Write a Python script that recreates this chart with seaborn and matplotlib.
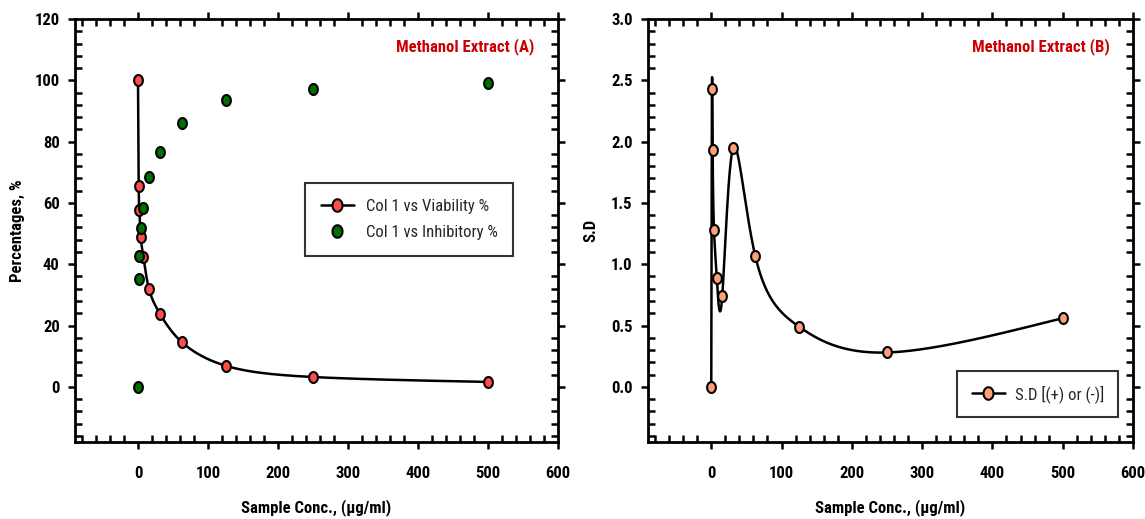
import numpy as np
import pandas as pd
import matplotlib
matplotlib.use("Agg")
import matplotlib.pyplot as plt
from matplotlib.lines import Line2D
from matplotlib.ticker import MultipleLocator, FormatStrFormatter
from matplotlib import font_manager as fm
from matplotlib.path import Path
import seaborn as sns

# ---- data ----
conc = [0, 0.98, 1.95, 3.9, 7.8, 15.6, 31.25, 62.5, 125, 250, 500]
viability = [100, 65.5, 57.7, 48.8, 42.4, 32.0, 23.9, 14.6, 6.9, 3.2, 1.6]
inhibitory = [0, 35.2, 42.8, 51.7, 58.5, 68.6, 76.7, 86.0, 93.6, 97.2, 99.0]
sd = [0.0, 2.43, 1.93, 1.28, 0.89, 0.74, 1.95, 1.07, 0.49, 0.28, 0.56]

xticks = [0, 100, 200, 300, 400, 500, 600]
yticks_a = [0, 20, 40, 60, 80, 100, 120]
yticks_b = [0.0, 0.5, 1.0, 1.5, 2.0, 2.5, 3.0]


def natural_spline_1d(t, y, tt):
    t = np.asarray(t, float)
    y = np.asarray(y, float)
    n = len(t)
    h = np.diff(t)
    A = np.zeros((n, n))
    r = np.zeros(n)
    A[0, 0] = 1
    A[-1, -1] = 1
    for i in range(1, n - 1):
        A[i, i - 1] = h[i - 1]
        A[i, i] = 2 * (h[i - 1] + h[i])
        A[i, i + 1] = h[i]
        r[i] = 6 * ((y[i + 1] - y[i]) / h[i] - (y[i] - y[i - 1]) / h[i - 1])
    M = np.linalg.solve(A, r)
    idx = np.clip(np.searchsorted(t, tt, side="right") - 1, 0, n - 2)
    a = t[idx + 1] - tt
    b = tt - t[idx]
    hh = h[idx]
    return (M[idx] * a**3 + M[idx + 1] * b**3) / (6 * hh) \
        + (y[idx] / hh - M[idx] * hh / 6) * a \
        + (y[idx + 1] / hh - M[idx + 1] * hh / 6) * b


def parametric_spline(x, y, per_seg=80):
    t = np.arange(len(x), dtype=float)
    tt = np.linspace(0, len(x) - 1, per_seg * (len(x) - 1) + 1)
    return natural_spline_1d(t, x, tt), natural_spline_1d(t, y, tt)


sns.set_theme(style="white")

# pick a narrow sans font if one is installed
fonts = fm.fontManager.ttflist
names = {f.name for f in fonts}
family = "Lato"
for cand in ["Roboto Condensed", "Liberation Sans Narrow", "Open Sans Condensed",
             "Noto Sans Condensed"]:
    if cand in names:
        family = cand
        break

plt.rcParams["font.family"] = [family, "DejaVu Sans"]

fig = plt.figure(figsize=(11.45, 5.19), dpi=100)
W, H = 1145, 519
axA = fig.add_axes([75 / W, 1 - 442 / H, 483 / W, 423 / H])
axB = fig.add_axes([648 / W, 1 - 442 / H, 485 / W, 423 / H])

df = pd.DataFrame({"conc": conc, "viability": viability,
                   "inhibitory": inhibitory, "sd": sd})

red = "#ff4d4d"
green = "#007000"
salmon = "#ff9f7a"

th = np.linspace(0, 2 * np.pi, 60)
oval = Path(np.column_stack([0.8 * np.cos(th), np.sin(th)]), closed=True)

# Panel A
cx, cy = parametric_spline(conc, viability)
sns.lineplot(x=cx, y=cy, ax=axA, color="black", lw=1.8, sort=False)
sns.scatterplot(data=df, x="conc", y="viability", ax=axA, color=red, marker=oval,
                edgecolor="black", linewidth=1.5, s=62, zorder=3)
sns.scatterplot(data=df, x="conc", y="inhibitory", ax=axA, color=green, marker=oval,
                edgecolor="black", linewidth=1.5, s=62, zorder=3)

# Panel B
bx, by = parametric_spline(conc, sd)
sns.lineplot(x=bx, y=by, ax=axB, color="black", lw=1.8, sort=False)
sns.scatterplot(data=df, x="conc", y="sd", ax=axB, color=salmon, marker=oval,
                edgecolor="black", linewidth=1.5, s=62, zorder=3)

for ax, ylim, yt, ymin in [(axA, (-18, 120), yticks_a, 4),
                           (axB, (-0.45, 3.0), yticks_b, 0.1)]:
    ax.set_xlim(-90, 600)
    ax.set_ylim(*ylim)
    ax.set_xticks(xticks)
    ax.set_yticks(yt)
    ax.xaxis.set_minor_locator(MultipleLocator(20))
    ax.yaxis.set_minor_locator(MultipleLocator(ymin))
    for sp in ax.spines.values():
        sp.set_visible(True)
        sp.set_color("black")
        sp.set_linewidth(2.0)
    ax.tick_params(which="major", direction="out", length=5, width=1.8,
                   color="black", top=True, right=True, bottom=True, left=True,
                   labelsize=12, labelcolor="black")
    ax.tick_params(axis="x", which="major", pad=12)
    ax.tick_params(axis="y", which="major", pad=6)
    ax.tick_params(which="minor", direction="in", length=5, width=1.8,
                   color="black", top=True, right=True, bottom=True, left=True)
    ax.set_xlabel("Sample Conc., (µg/ml)", fontsize=12, fontweight="bold",
                  labelpad=13, color="black")
    ax.grid(False)

axB.yaxis.set_major_formatter(FormatStrFormatter("%.1f"))
for ax in (axA, axB):
    for lab in ax.get_xticklabels() + ax.get_yticklabels():
        lab.set_fontweight("bold")

axA.set_ylabel("Percentages, %", fontsize=12, fontweight="bold",
               labelpad=7, color="black")
axB.set_ylabel("S.D", fontsize=12, fontweight="bold", labelpad=9,
               color="black")

axA.text(0.952, 0.936, "Methanol Extract (A)", transform=axA.transAxes,
         ha="right", va="center", color="#cc0000", fontsize=12,
         fontweight="semibold")
axB.text(0.953, 0.936, "Methanol Extract (B)", transform=axB.transAxes,
         ha="right", va="center", color="#cc0000", fontsize=12,
         fontweight="semibold")

hA = [Line2D([], [], color="black", lw=1.8, marker=oval, markersize=9,
             markerfacecolor=red, markeredgecolor="black", markeredgewidth=1.5),
      Line2D([], [], color="none", lw=0, marker=oval, markersize=9,
             markerfacecolor=green, markeredgecolor="black", markeredgewidth=1.5)]
legA = axA.legend(hA, ["Col 1 vs Viability %", "Col 1 vs Inhibitory %"],
                  loc="upper left", bbox_to_anchor=(0.476, 0.612),
                  frameon=True, fancybox=False, edgecolor="black",
                  fontsize=12, borderpad=0.95, handlelength=2.0,
                  handletextpad=0.7, labelspacing=0.65, borderaxespad=0)
legA.get_frame().set_linewidth(1.5)

hB = [Line2D([], [], color="black", lw=1.8, marker=oval, markersize=9,
             markerfacecolor=salmon, markeredgecolor="black",
             markeredgewidth=1.5)]
legB = axB.legend(hB, ["S.D [(+) or (-)]"], loc="upper left",
                  bbox_to_anchor=(0.638, 0.168), frameon=True, fancybox=False,
                  edgecolor="black", fontsize=12, borderpad=0.85,
                  handlelength=2.0, handletextpad=0.6, borderaxespad=0)
legB.get_frame().set_linewidth(1.5)

fig.savefig("out.png", dpi=100, facecolor="white")
